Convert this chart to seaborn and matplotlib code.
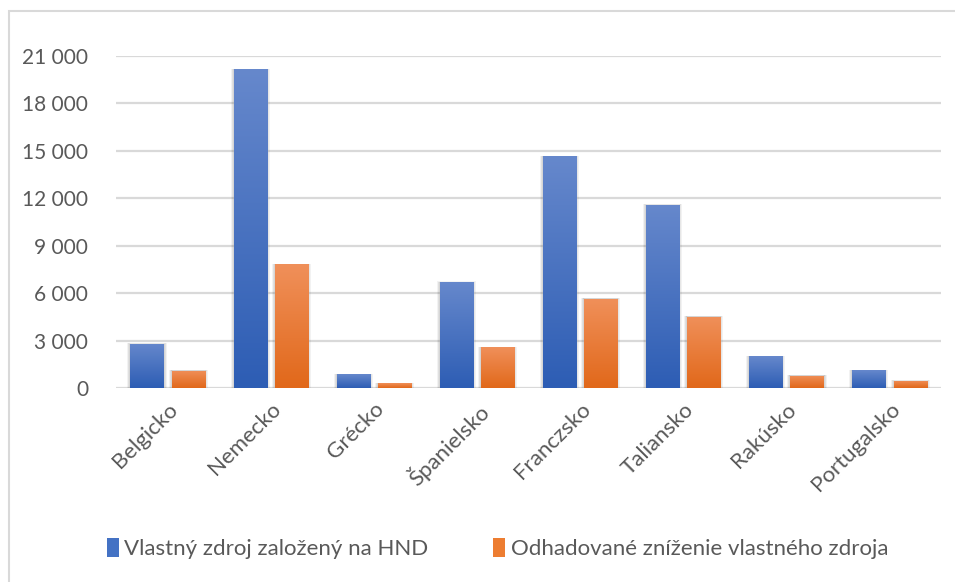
import numpy as np
import pandas as pd
import matplotlib
matplotlib.use("Agg")
import matplotlib.pyplot as plt
from matplotlib.patches import Patch, Rectangle
from matplotlib.colors import LinearSegmentedColormap
from matplotlib.ticker import FuncFormatter, MultipleLocator
import seaborn as sns

countries = ["Belgicko", "Nemecko", "Grécko", "Španielsko",
             "Franczsko", "Taliansko", "Rakúsko", "Portugalsko"]
series_names = ["Vlastný zdroj založený na HND",
                "Odhadované zníženie vlastného zdroja"]
gni_resource = [2800, 20150, 870, 6700, 14650, 11580, 2000, 1120]
estimated_reduction = [1100, 7820, 300, 2570, 5650, 4510, 780, 460]

df = pd.DataFrame({
    "krajina": countries * 2,
    "séria": [series_names[0]] * len(countries) + [series_names[1]] * len(countries),
    "hodnota": gni_resource + estimated_reduction,
})

sns.set_theme(style="white")
plt.rcParams["font.family"] = ["Lato", "DejaVu Sans"]

text_grey = "#595959"
grid_grey = "#d9d9d9"
mid_colors = ["#4472c4", "#ed7d31"]
grad_colors = [("#6688cc", "#2d5db4"), ("#f0905a", "#e1681a")]

fig = plt.figure(figsize=(9.55, 5.82), dpi=100)
ax = fig.add_axes([0.1215, 0.3333, 0.8639, 0.5704])

sns.barplot(data=df, x="krajina", y="hodnota", hue="séria",
            palette=mid_colors, width=0.8, gap=0.2, ax=ax,
            legend=False, errorbar=None, saturation=1, zorder=3)

# vertical gradient fill plus a soft shadow for every bar
for container, (top_c, bot_c) in zip(ax.containers, grad_colors):
    cmap = LinearSegmentedColormap.from_list("g", [bot_c, top_c])
    grad = np.linspace(1, 0, 256).reshape(-1, 1)
    for bar in container:
        x0, w, h = bar.get_x(), bar.get_width(), bar.get_height()
        for k, a in ((0.03, 0.05), (0.02, 0.07), (0.01, 0.09)):
            ax.add_patch(Rectangle((x0 - k, 0), w + 2 * k, h + k * 1500,
                                   facecolor="#000000", alpha=a,
                                   edgecolor="none", zorder=2))
        im = ax.imshow(grad, cmap=cmap, extent=[x0, x0 + w, 0, h],
                       aspect="auto", zorder=4, vmin=0, vmax=1,
                       interpolation="bilinear")
        im.set_clip_path(bar)

ax.set_xlim(-0.5, len(countries) - 0.5)
ax.set_ylim(0, 21000)
ax.yaxis.set_major_locator(MultipleLocator(3000))
ax.yaxis.set_major_formatter(FuncFormatter(lambda v, p: f"{v:,.0f}".replace(",", " ")))
ax.grid(axis="y", color=grid_grey, linewidth=1.6, zorder=0)
ax.set_axisbelow(True)
for s in ax.spines.values():
    s.set_visible(False)
ax.tick_params(axis="both", length=0, colors=text_grey)
ax.tick_params(axis="y", pad=20, labelsize=15)
ax.tick_params(axis="x", pad=8, labelsize=16)
ax.set_xlabel("")
ax.set_ylabel("")
for lbl in ax.get_xticklabels():
    lbl.set_rotation(45)
    lbl.set_ha("right")
    lbl.set_rotation_mode("anchor")

handles = [Patch(facecolor=c, edgecolor="none") for c in mid_colors]
fig.legend(handles, series_names, loc="center", bbox_to_anchor=(0.521, 0.057),
           ncol=2, frameon=False, fontsize=16, labelcolor=text_grey,
           handlelength=0.55, handleheight=0.9, handletextpad=0.25,
           columnspacing=2.9)

# chart frame
fig.add_artist(Rectangle((9 / 955, -0.05), 1.2, 1.05 - 11 / 582,
                         transform=fig.transFigure, fill=False,
                         edgecolor="#d9d9d9", linewidth=1.5))

fig.savefig("out.png", dpi=100, facecolor="white")
